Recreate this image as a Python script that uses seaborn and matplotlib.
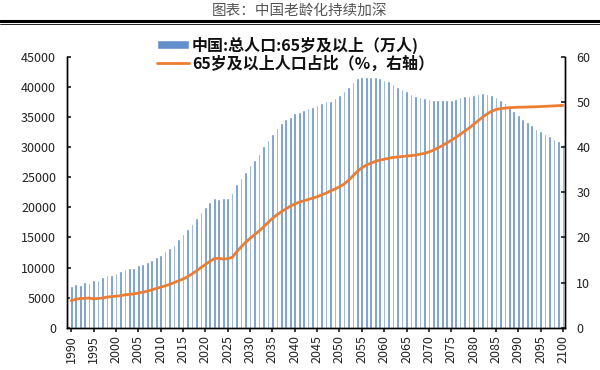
import numpy as np
import pandas as pd
import matplotlib
matplotlib.use("Agg")
import matplotlib.pyplot as plt
import seaborn as sns
from matplotlib.lines import Line2D

# ===== data =====
years = list(range(1990, 2101))

# 65岁及以上人口（万人）
pop65 = [
    6950, 7230, 7150, 7560, 7400, 7900, 8000, 8400, 8700, 8750,
    9100, 9400, 9800, 9950, 10000, 10450, 10650, 10950, 11300, 11750,
    12000, 12800, 13200, 13800, 14700, 15600, 16400, 17300, 18200, 19200,
    20000, 20900, 21600, 21300, 21550, 21550, 22300, 23900, 24900, 25900,
    26950, 27800, 28900, 30100, 31100, 32100, 33100, 33960, 34570, 35060,
    35670, 35780, 36170, 36450, 36560, 36890, 37270, 37600, 37710, 38150,
    38700, 39370, 39920, 40740, 41410, 41680, 41680, 41680, 41680, 41470,
    41190, 40910, 40470, 40020, 39640, 39250, 38810, 38530, 38360, 38090,
    37980, 37870, 37820, 37820, 37820, 37820, 37930, 38260, 38400, 38500,
    38600, 38820, 38930, 38820, 38700, 38370, 37820, 37270, 36610, 35950,
    35230, 34690, 34130, 33580, 33030, 32580, 32200, 31760, 31370, 30930,
    30550,
]

# 65岁及以上人口占比（%）
ratio65 = [
    6.0, 6.3, 6.5, 6.5, 6.6, 6.4, 6.5, 6.6, 6.8, 6.9,
    7.0, 7.1, 7.3, 7.4, 7.5, 7.7, 7.9, 8.1, 8.4, 8.7,
    9.0, 9.3, 9.6, 10.0, 10.4, 10.8, 11.3, 11.9, 12.6, 13.3,
    14.0, 14.7, 15.3, 15.4, 15.2, 15.3, 15.6, 16.8, 17.9, 18.9,
    19.8, 20.6, 21.4, 22.3, 23.3, 24.2, 25.0, 25.7, 26.3, 26.9,
    27.4, 27.8, 28.1, 28.4, 28.7, 29.0, 29.4, 29.8, 30.3, 30.7,
    31.2, 31.8, 32.6, 33.6, 34.6, 35.4, 36.0, 36.4, 36.8, 37.1,
    37.3, 37.5, 37.7, 37.8, 37.9, 38.0, 38.1, 38.2, 38.4, 38.6,
    38.9, 39.3, 39.8, 40.3, 40.9, 41.5, 42.1, 42.8, 43.5, 44.2,
    45.0, 45.8, 46.6, 47.3, 47.9, 48.3, 48.5, 48.6, 48.7, 48.75,
    48.8, 48.82, 48.85, 48.88, 48.9, 48.95, 49.0, 49.05, 49.1, 49.15,
    49.2,
]

label_bar = "中国:总人口:65岁及以上（万人)"
label_line = "65岁及以上人口占比（%，右轴）"
title = "图表：中国老龄化持续加深"

df = pd.DataFrame({"year": years, "pop65": pop65, "ratio65": ratio65})

# ===== style =====
sns.set_theme(style="white")
plt.rcParams["font.family"] = ["Noto Sans CJK SC", "DejaVu Sans"]

fig = plt.figure(figsize=(6, 3.7), dpi=100)
ax = fig.add_axes([0.112, 0.114, 0.830, 0.733])

sns.barplot(data=df, x="year", y="pop65", native_scale=True, ax=ax,
            color="#6390cc", width=0.6, saturation=1, label=label_bar)

ax2 = ax.twinx()
sns.lineplot(data=df, x="year", y="ratio65", ax=ax2, color="#ed7d31",
             linewidth=2, label=label_line, legend=False)

ax.set_xlim(1989.1, 2100.5)
ax.set_ylim(0, 45000)
ax2.set_ylim(0, 60)
ax.set_yticks(range(0, 45001, 5000))
ax2.set_yticks(range(0, 61, 10))
ax.set_xticks(range(1990, 2101, 5))
ax.set_xticklabels([str(y) for y in range(1990, 2101, 5)], rotation=90)

for a in (ax, ax2):
    a.set_xlabel("")
    a.set_ylabel("")
    a.grid(False)
    for s in a.spines.values():
        s.set_color("black")
        s.set_linewidth(1.0)
    a.spines["top"].set_visible(False)

ax.tick_params(axis="y", direction="in", length=3, labelsize=9,
               colors="#222222", pad=8)
ax2.tick_params(axis="y", direction="in", length=3, labelsize=9,
                colors="#222222", pad=8)
ax.tick_params(axis="x", direction="out", length=3, labelsize=9,
               colors="#222222", bottom=True, pad=2)

# legend
h1, l1 = ax.get_legend_handles_labels()
h2, l2 = ax2.get_legend_handles_labels()
if ax.get_legend() is not None:
    ax.get_legend().remove()
leg = ax2.legend(h1 + h2, l1 + l2, loc="upper center",
                 bbox_to_anchor=(0.458, 1.11), frameon=False, ncol=1,
                 prop={"size": 11.5, "weight": "bold"},
                 handlelength=2.0, handleheight=0.5, labelspacing=0.1,
                 borderpad=0.1, handletextpad=0.2)
for t in leg.get_texts():
    t.set_color("#111111")

# title + rule line
fig.text(0.5, 0.97, title, ha="center", va="center", fontsize=10.5,
         color="#555555")
fig.add_artist(Line2D([0, 1], [0.943, 0.943], color="black", linewidth=2.2))
fig.add_artist(Line2D([0, 1], [0.934, 0.934], color="black", linewidth=0.6))

fig.savefig("out.png", dpi=100)
plt.close(fig)
